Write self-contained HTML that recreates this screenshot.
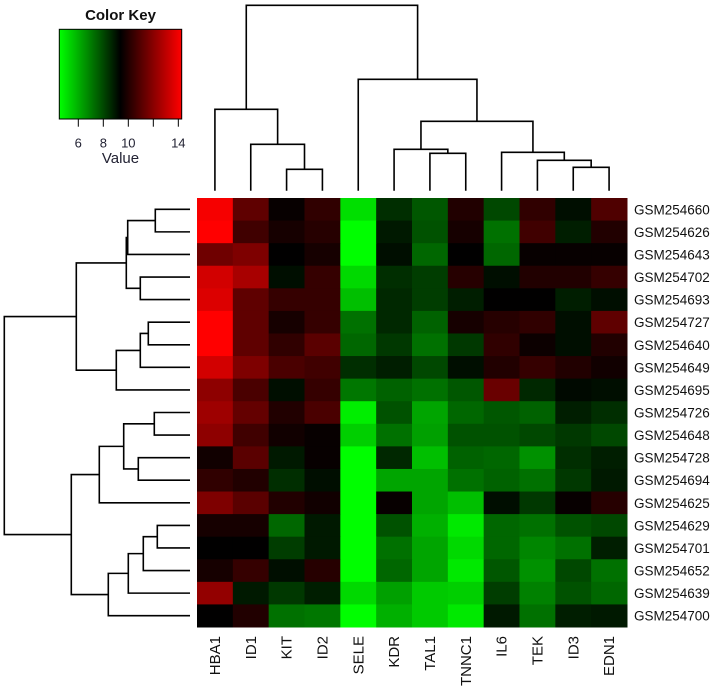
<!DOCTYPE html>
<html><head><meta charset="utf-8"><style>
html,body{margin:0;padding:0;background:#fff;}
svg{display:block;font-family:"Liberation Sans",Arial,sans-serif;}
</style></head><body>
<svg id="chart" width="723" height="696" viewBox="0 0 723 696" xmlns="http://www.w3.org/2000/svg"></svg>
<script>
const genes = ["HBA1","ID1","KIT","ID2","SELE","KDR","TAL1","TNNC1","IL6","TEK","ID3","EDN1"];
const samples = ["GSM254660","GSM254626","GSM254643","GSM254702","GSM254693","GSM254727","GSM254640","GSM254649","GSM254695","GSM254726","GSM254648","GSM254728","GSM254694","GSM254625","GSM254629","GSM254701","GSM254652","GSM254639","GSM254700"];
const values = [
[14.1,11.2,9.5,10.3,5.1,8.5,7.7,10.0,8.0,10.3,9.1,10.9],
[14.3,10.6,9.8,10.1,4.5,8.9,7.8,9.8,7.2,10.6,8.8,10.0],
[11.5,11.8,9.4,9.8,4.5,9.1,7.4,9.4,7.4,9.5,9.5,9.5],
[13.4,12.6,9.1,10.4,5.2,8.5,8.2,10.1,9.1,10.0,10.0,10.4],
[13.6,11.2,10.4,10.4,5.7,8.6,8.2,8.8,9.4,9.4,8.8,9.1],
[14.3,11.2,9.8,10.4,7.2,8.6,7.5,9.8,10.1,10.3,9.1,11.2],
[14.3,11.2,10.3,11.1,7.4,8.3,7.2,8.3,10.3,9.6,9.1,10.0],
[13.4,11.8,10.8,10.6,8.5,8.8,8.0,9.1,10.0,10.4,10.0,9.7],
[12.1,10.8,9.1,10.4,7.1,7.5,7.2,7.7,11.4,8.6,9.2,9.1],
[12.4,11.3,10.0,10.8,4.8,7.8,6.2,7.4,7.7,7.5,8.8,8.5],
[12.1,10.6,9.7,9.5,5.4,7.2,6.3,7.8,7.8,8.0,8.3,8.0],
[9.7,11.1,8.9,9.5,4.5,8.6,5.7,7.5,7.4,6.6,8.5,8.8],
[10.3,10.0,8.5,9.1,4.5,6.2,6.2,7.2,7.5,7.2,8.3,8.9],
[11.8,11.1,10.0,9.7,4.5,9.5,6.2,5.7,9.1,8.3,9.5,10.1],
[9.8,9.8,7.4,8.9,4.5,7.8,6.0,4.9,7.4,7.2,7.8,8.0],
[9.4,9.4,8.2,8.9,4.5,7.2,6.2,5.2,7.4,6.8,7.2,8.8],
[9.8,10.4,9.1,10.1,4.5,7.4,6.2,4.9,7.7,6.6,8.0,7.2],
[12.2,8.9,8.3,8.8,5.2,6.3,5.5,5.4,8.2,6.9,7.8,7.4],
[9.4,10.0,7.2,7.1,4.5,6.0,5.5,4.9,8.9,7.2,8.8,8.9]
];
const keyTicks = [6,8,10,12,14];
const keyTickLabels = ["6","8","10","","14"];
// dendrograms: [height, left, right]; leaves are indices
const colTree = [185.4,[81.4,0,[46.4,1,[21.4,2,3]]],[111.4,4,[69.4,[41.4,5,[37.4,6,7]],[38.4,8,[30.4,9,[23.4,10,11]]]]]];
const rowTree = [185.7,
  [113.7,[63.7,[62.3,[34.7,0,1],2],[49.7,3,4]],[73.7,[49.7,[41.7,5,6],7],8]],
  [118.7,[90.7,[66.3,[35.7,9,10],[51.7,11,12]],13],[81.7,[61.7,[46.7,[32.7,14,15],16],17],18]]];

const NS="http://www.w3.org/2000/svg";
const svg=document.getElementById('chart');
function mk(t,a,p){const e=document.createElementNS(NS,t);for(const k in a)e.setAttribute(k,a[k]);(p||svg).appendChild(e);return e;}
const X0=197,Y0=198,CW=(627-197)/12,RH=(627-198)/19;
const vMin=4.48,vMax=14.27,vMid=(vMin+vMax)/2;
function col(v){
  if(v<vMid){const g=Math.round(Math.min(1,(vMid-v)/(vMid-vMin))*255);return `rgb(0,${g},0)`;}
  const r=Math.round(Math.min(1,(v-vMid)/(vMax-vMid))*255);return `rgb(${r},0,0)`;
}
const xCell=i=>X0+i*CW, yCell=j=>Y0+j*RH;
const cells=mk('g',{});


values.forEach((row,j)=>row.forEach((v,i)=>{
  const r=mk('rect',{x:xCell(i),y:yCell(j),width:CW+0.5,height:RH+0.5,fill:col(v)},cells);
  
  
}));
samples.forEach((s,j)=>{
  const t=mk('text',{x:634,y:yCell(j)+RH/2+5,'font-size':13.5,fill:'#111'});t.textContent=s;
  
  
});
genes.forEach((g,i)=>{
  const cx=xCell(i)+CW/2+5, y=636;
  const t=mk('text',{x:cx,y:y,'font-size':15,fill:'#111','text-anchor':'end',transform:`rotate(-90 ${cx} ${y})`});t.textContent=g;
  
  
});
// dendrograms
function drawTree(tree,pos,base,horiz,grp){
  // returns [center, height]
  if(typeof tree==='number') return [pos(tree),0];
  const [h,l,r]=tree;
  const a=drawTree(l,pos,base,horiz,grp), b=drawTree(r,pos,base,horiz,grp);
  let d;
  if(horiz){ // column dendro: heights go up
    const ya=base-a[1], yb=base-b[1], yh=base-h;
    d=`M${a[0]},${ya}V${yh}H${b[0]}V${yb}`;
  } else {
    const xa=base-a[1], xb=base-b[1], xh=base-h;
    d=`M${xa},${a[0]}H${xh}V${b[0]}H${xb}`;
  }
  mk('path',{d:d,fill:'none',stroke:'#000','stroke-width':1.6},grp);
  return [(a[0]+b[0])/2,h];
}
const cg=mk('g',{});


drawTree(colTree,i=>xCell(i)+CW/2,190.7,true,cg);
const rg=mk('g',{});


drawTree(rowTree,j=>yCell(j)+RH/2,190,false,rg);
// color key
const kg=mk('g',{});


const KX0=59.3,KX1=181.7,KY0=29.3,KY1=119;
const kx=v=>KX0+(v-vMin)/(vMax-vMin)*(KX1-KX0);
const defs=mk('defs',{});
const lg=mk('linearGradient',{id:'kg',x1:0,x2:1,y1:0,y2:0},defs);
mk('stop',{offset:0,'stop-color':'#00ff00'},lg);
mk('stop',{offset:0.5,'stop-color':'#000'},lg);
mk('stop',{offset:1,'stop-color':'#ff0000'},lg);
mk('rect',{x:KX0,y:KY0,width:KX1-KX0,height:KY1-KY0,fill:'url(#kg)',stroke:'#000','stroke-width':1},kg);
keyTicks.forEach((v,k)=>{
  mk('line',{x1:kx(v),x2:kx(v),y1:KY1,y2:126.7,stroke:'#000','stroke-width':1},kg);
  if(keyTickLabels[k]){const t=mk('text',{x:kx(v),y:147.5,'font-size':13,'text-anchor':'middle',fill:'#223'},kg);t.textContent=keyTickLabels[k];
  
  }
});
const vt=mk('text',{x:120.5,y:163,'font-size':15,'text-anchor':'middle',fill:'#223'},kg);vt.textContent='Value';


const kt=mk('text',{x:120.5,y:20,'font-size':15,'font-weight':'bold','text-anchor':'middle',fill:'#111'},kg);kt.textContent='Color Key';


</script>
</body></html>
